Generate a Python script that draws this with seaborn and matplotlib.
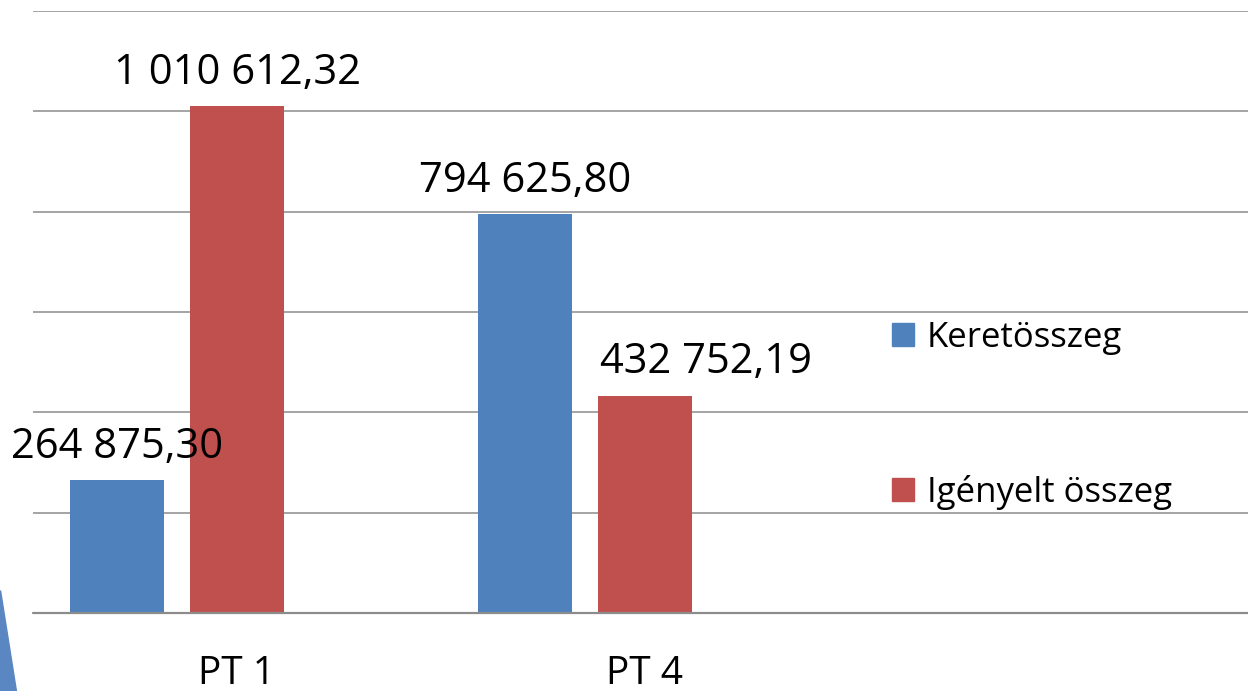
import matplotlib.pyplot as plt
import pandas as pd
import seaborn as sns
from matplotlib.patches import Polygon

categories = ['PT 1', 'PT 4']
series = ['Keretösszeg', 'Igényelt összeg']
keret = [264875.30, 794625.80]
igenyelt = [1010612.32, 432752.19]
colors = ['#4F81BD', '#C0504D']

df = pd.DataFrame({
    'kategoria': categories * 2,
    'sorozat': [series[0]] * 2 + [series[1]] * 2,
    'ertek': keret + igenyelt,
})

sns.set_style('white')
plt.rcParams['font.family'] = ['Open Sans', 'DejaVu Sans']
plt.rcParams['text.color'] = 'black'
plt.rcParams['xtick.color'] = 'black'

W, H = 1248, 691
fig = plt.figure(figsize=(W / 100, H / 100), dpi=100)
ax = fig.add_axes([33 / W, (H - 613) / H, (W - 33) / W, (613 - 11) / H])

# Excel-style layout keeps an empty third slot in each group
sns.barplot(data=df, x='kategoria', y='ertek', hue='sorozat',
            order=categories, hue_order=series + [' '],
            palette=colors + ['white'], width=0.882, gap=0.21,
            saturation=1, errorbar=None, legend=False, linewidth=0, ax=ax)

ax.set_xlim(-0.5, -0.5 + (W - 33) / 408)
ax.set_ylim(0, 1200000)
ax.set_yticks(range(0, 1200001, 200000))
ax.yaxis.grid(True, color='#8c8c8c', linewidth=1.1)
ax.set_axisbelow(True)
ax.axhline(0, color='#8c8c8c', linewidth=1.6, clip_on=False)
ax.tick_params(axis='y', left=False, labelleft=False)
ax.tick_params(axis='x', bottom=False, labelsize=28, pad=27, labelcolor='black')
ax.set_xlabel('')
ax.set_ylabel('')
for s in ax.spines.values():
    s.set_visible(False)


def hu_fmt(v):
    return f'{v:,.2f}'.replace(',', ' ').replace('.', ',')


labels = []
for cont in ax.containers:
    labels.append(ax.bar_label(cont, labels=[hu_fmt(b.get_height()) for b in cont],
                               padding=9, fontsize=30, color='black'))
# the PT 4 "Igényelt" label sits shifted to the right in the original
labels[1][1].xyann = (44, 9)

handles = [plt.Rectangle((0, 0), 1, 1, color=c) for c in colors]
ax.legend(handles, series, loc='upper left', bbox_to_anchor=(878 / W, (H - 307) / H),
          bbox_transform=fig.transFigure, frameon=False, fontsize=25,
          handlelength=0.65, handleheight=0.65, handletextpad=0.35,
          labelspacing=3.45, borderaxespad=0)

fig.patches.append(Polygon([(0, (H - 590) / H), (0, 0), (16 / W, 0)],
                           closed=True, transform=fig.transFigure,
                           color='#5a87c2', zorder=0))

fig.savefig('out.png', dpi=100)
